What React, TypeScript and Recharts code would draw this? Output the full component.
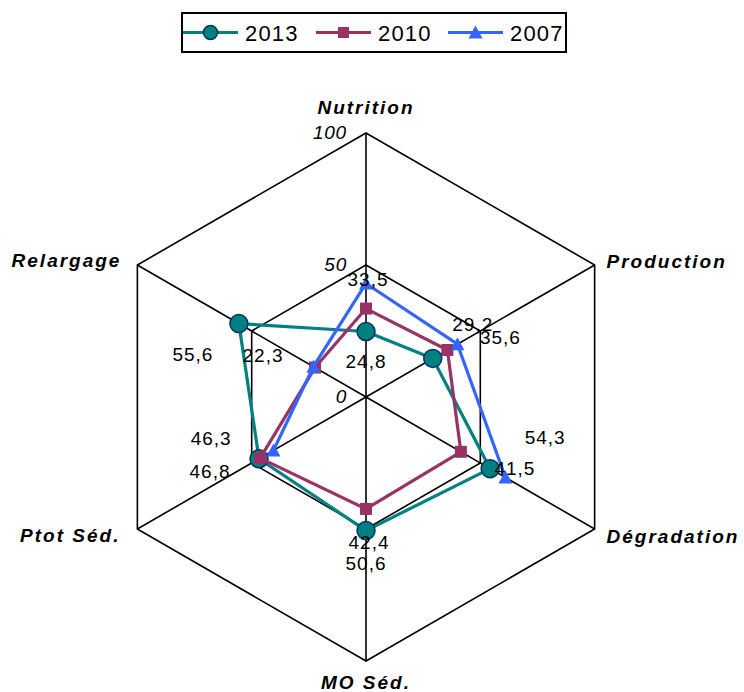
import { RadarChart, PolarGrid, PolarAngleAxis, PolarRadiusAxis, Radar, Legend } from 'recharts'

const axes = ['Nutrition', 'Production', 'Dégradation', 'MO Séd.', 'Ptot Séd.', 'Relargage']
const y2013 = [24.8, 29.2, 54.3, 50.6, 46.8, 55.6]
const y2010 = [33.5, 35.6, 41.5, 42.4, 46.3, 22.3]
const y2007 = [43, 40, 61, null, 40.5, 23]
const radiusTicks = [0, 50, 100]

const data = axes.map((axis, i) => ({ axis, y2013: y2013[i], y2010: y2010[i], y2007: y2007[i] }))

const FONT = "'Liberation Sans', Arial, sans-serif"
const TEAL = '#008080'
const PLUM = '#993366'
const BLUE = '#3366FF'

// label placement relative to the point (text centre)
const offs2013 = [[0, 30], [40, -34], [55, -31], [0, 33], [-49, 13], [-46, 31]]
const offs2010 = [[2, -29], [53, -13], [54, 17], [3, 34], [-49, -20], [-52, -12]]
// angle axis label placement relative to the tick point
const axisOffs: [number, number, string][] = [
  [0, -17.5, 'middle'], [5, 0, 'start'], [5, 3, 'start'],
  [0, 13, 'middle'], [-10, 2, 'end'], [-9, -1, 'end'],
]

const fmt = (v: number) => v.toFixed(1).replace('.', ',')

function circleMark(x: number, y: number, r = 9) {
  return <circle cx={x} cy={y} r={r} fill={TEAL} stroke="#003366" strokeWidth={1.5} />
}
function squareMark(x: number, y: number, s = 12) {
  return <rect x={x - s / 2} y={y - s / 2} width={s} height={s} fill={PLUM} />
}
function triMark(x: number, y: number, s = 7) {
  return <path d={`M${x},${y - s}L${x + s},${y + s - 1}L${x - s},${y + s - 1}Z`} fill={BLUE} />
}

function seriesShape(key: string, color: string, mark: (x: number, y: number) => any) {
  return (props: any) => {
    const pts = props.points || []
    const n = pts.length
    const ok = pts.map((p: any) => p.payload && p.payload[key] != null)
    let d = ''
    const start = ok.indexOf(false)
    if (start < 0) {
      d = 'M' + pts.map((p: any) => `${p.x},${p.y}`).join('L') + 'Z'
    } else {
      let run: any[] = []
      for (let k = 1; k <= n; k++) {
        const i = (start + k) % n
        if (ok[i]) run.push(pts[i])
        else {
          if (run.length > 1) d += 'M' + run.map((p) => `${p.x},${p.y}`).join('L')
          run = []
        }
      }
    }
    return (
      <g>
        <path d={d} stroke={color} strokeWidth={3.2} fill="none" strokeLinejoin="round" />
        {pts.map((p: any, i: number) => (ok[i] ? <g key={i}>{mark(p.x, p.y)}</g> : null))}
      </g>
    )
  }
}

function labelShape(key: string, offs: number[][]) {
  return (props: any) => (
    <g>
      {(props.points || []).map((p: any, i: number) => (
        <text
          key={i}
          x={p.x + offs[i][0]}
          y={p.y + offs[i][1]}
          textAnchor="middle"
          dominantBaseline="central"
          fontFamily={FONT}
          fontSize={19}
          letterSpacing={1}
          fill="#000"
        >
          {fmt(p.payload[key])}
        </text>
      ))}
    </g>
  )
}

function AngleTick(props: any) {
  const { x, y, payload, index } = props
  const o = axisOffs[index] || [0, 0, 'middle']
  return (
    <text
      x={x + o[0]}
      y={y + o[1]}
      textAnchor={o[2] as any}
      dominantBaseline="central"
      fontFamily={FONT}
      fontSize={19}
      fontWeight="bold"
      fontStyle="italic"
      letterSpacing={2}
      fill="#000"
    >
      {payload.value}
    </text>
  )
}

function RadiusTick(props: any) {
  const { x, y, payload } = props
  return (
    <text
      x={x - 19}
      y={y - 1}
      textAnchor="end"
      dominantBaseline="central"
      fontFamily={FONT}
      fontSize={19}
      fontStyle="italic"
      letterSpacing={0.8}
      fill="#000"
    >
      {payload.value}
    </text>
  )
}

function LegendBox() {
  const items = [
    { name: '2013', x: 2, mark: (x: number, y: number) => circleMark(x, y, 7), color: TEAL },
    { name: '2010', x: 135, mark: (x: number, y: number) => squareMark(x, y, 11), color: PLUM },
    { name: '2007', x: 267, mark: (x: number, y: number) => triMark(x, y, 7), color: BLUE },
  ]
  return (
    <svg width={386} height={41} style={{ display: 'block' }}>
      <rect x={1} y={1} width={384} height={39} fill="#fff" stroke="#000" strokeWidth={2} />
      {items.map((it) => (
        <g key={it.name}>
          <line x1={it.x} x2={it.x + 55} y1={20.5} y2={20.5} stroke={it.color} strokeWidth={3.2} />
          {it.mark(it.x + 27.5, 20.5)}
          <text
            x={it.x + 62}
            y={21}
            dominantBaseline="central"
            fontFamily={FONT}
            fontSize={22}
            letterSpacing={1.2}
            fill="#000"
          >
            {it.name}
          </text>
        </g>
      ))}
    </svg>
  )
}

export default function App() {
  return (
    <div style={{ position: 'absolute', left: 0, top: 0, width: 744, height: 692, background: '#fff' }}>
      <RadarChart width={744} height={692} data={data} cx={366} cy={397} outerRadius={264} margin={{ top: 0, right: 0, bottom: 0, left: 0 }}>
        <PolarGrid gridType="polygon" stroke="#000" strokeWidth={1.6} strokeOpacity={1} />
        <PolarAngleAxis dataKey="axis" tick={<AngleTick />} tickLine={false} axisLine={false} />
        <PolarRadiusAxis
          angle={90}
          domain={[0, 100]}
          ticks={radiusTicks as any}
          tickCount={3}
          tick={<RadiusTick />}
          axisLine={false}
          tickLine={false}
        />
        <Radar dataKey="y2013" name="2013" isAnimationActive={false} shape={seriesShape('y2013', TEAL, (x, y) => circleMark(x, y))} />
        <Radar dataKey="y2010" name="2010" isAnimationActive={false} shape={seriesShape('y2010', PLUM, (x, y) => squareMark(x, y))} />
        <Radar dataKey="y2007" name="2007" isAnimationActive={false} shape={seriesShape('y2007', BLUE, (x, y) => triMark(x, y))} />
        <Radar dataKey="y2013" legendType="none" isAnimationActive={false} shape={labelShape('y2013', offs2013)} />
        <Radar dataKey="y2010" legendType="none" isAnimationActive={false} shape={labelShape('y2010', offs2010)} />
        <Legend
          content={() => <LegendBox />}
          wrapperStyle={{ position: 'absolute', left: 181, top: 12, width: 386, height: 41 }}
        />
      </RadarChart>
    </div>
  )
}
